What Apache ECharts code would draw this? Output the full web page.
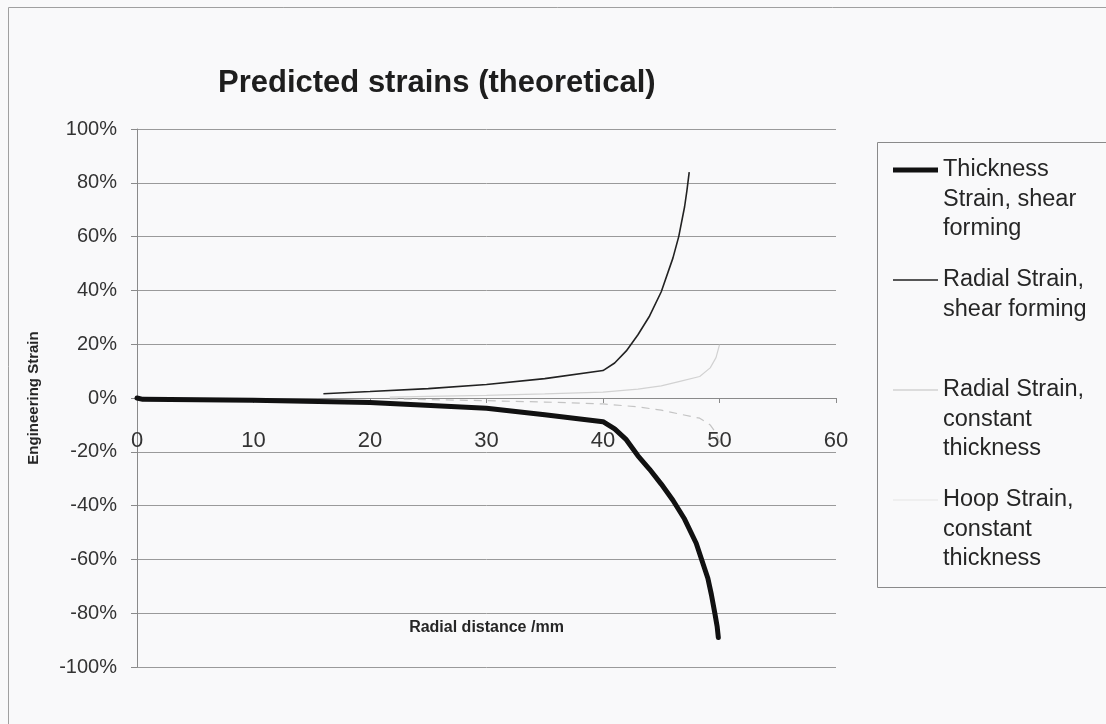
<!DOCTYPE html>
<html><head><meta charset="utf-8">
<script src="https://cdn.jsdelivr.net/npm/echarts@6/dist/echarts.min.js"></script>
<style>html,body{margin:0;padding:0;background:#f9f9fa}#c{width:1106px;height:724px}</style>
</head><body><div id="c"></div>
<script>
// ---- data ----
const seriesNames = [
  'Thickness Strain, shear forming',
  'Radial Strain, shear forming',
  'Radial Strain, constant thickness',
  'Hoop Strain, constant thickness'
];
const legendLabels = [
  'Thickness\nStrain, shear\nforming',
  'Radial Strain,\nshear forming\n ',
  'Radial Strain,\nconstant\nthickness',
  'Hoop Strain,\nconstant\nthickness'
];
const xThick = [0, 0.5, 10, 20, 30, 35, 40, 41, 42, 43, 44, 45, 46, 47, 48, 49, 49.3, 49.6, 49.8, 49.9];
const yThick = [0, -0.005, -0.008, -0.017, -0.038, -0.062, -0.088, -0.115, -0.155, -0.215, -0.265, -0.32, -0.38, -0.45, -0.54, -0.67, -0.73, -0.80, -0.85, -0.89];
const xRadial = [16, 20, 25, 30, 35, 40, 41, 42, 43, 44, 45, 46, 46.5, 47, 47.2, 47.4];
const yRadial = [0.016, 0.024, 0.035, 0.05, 0.072, 0.102, 0.13, 0.175, 0.235, 0.305, 0.395, 0.52, 0.60, 0.71, 0.77, 0.84];
const xConst = [21.7, 25, 30, 35, 40, 43, 45, 46.6, 48.3, 49.2, 49.7, 50];
const yRadialConst = [0.003, 0.006, 0.010, 0.015, 0.022, 0.033, 0.045, 0.062, 0.08, 0.112, 0.15, 0.198];
const yHoopConst = [-0.003, -0.006, -0.010, -0.015, -0.022, -0.033, -0.045, -0.06, -0.075, -0.10, -0.13, -0.165];
const yTicks = { min: -1, max: 1, interval: 0.2 };
const xTicks = { min: 0, max: 60, interval: 10 };

const pairs = (xs, ys) => xs.map((x, i) => [x, ys[i]]);
const FONT = "'Liberation Sans', Arial, sans-serif";
const L = 29.5;            // legend line height
const IH = 3 * L;          // legend item height (3 text lines)
const IW = 45;             // legend icon width
// legend icon: a bar centred on the first text line, inside an IW x IH box
const barIcon = (th) => {
  const c = L / 2, a = c - th / 2, b = c + th / 2;
  return 'path://M0,0L' + IW + ',0L' + IW + ',0.01L0,0.01Z' +
    'M0,' + a + 'L' + IW + ',' + a + 'L' + IW + ',' + b + 'L0,' + b + 'Z' +
    'M0,' + (IH - 0.01) + 'L' + IW + ',' + (IH - 0.01) + 'L' + IW + ',' + IH + 'L0,' + IH + 'Z';
};
const legendIcons = [barIcon(5), barIcon(1.5), barIcon(1.3), barIcon(1.3)];

const GRID_TOP = 129, GRID_BOTTOM = 57, H = 724;
const plotH = H - GRID_TOP - GRID_BOTTOM;
// move the x axis up to the 0 % level (middle of the -100%..100% range)
const xOffset = -plotH * (0 - yTicks.min) / (yTicks.max - yTicks.min);

const chart = echarts.init(document.getElementById('c'), null, { renderer: 'canvas' });
chart.setOption({
  backgroundColor: '#f9f9fa',
  animation: false,
  title: {
    text: 'Predicted strains (theoretical)',
    left: 213, top: 63,
    textStyle: { fontFamily: FONT, fontSize: 31, fontWeight: 'bold', color: '#1e1e1e' }
  },
  graphic: [
    { type: 'rect', left: 6, top: 5, shape: { width: 1110, height: 730 }, style: { fill: 'none', stroke: '#a0a0a0', lineWidth: 1 }, silent: true },
    { type: 'rect', left: 875, top: 140, shape: { width: 240, height: 445 }, style: { fill: 'none', stroke: '#8a8a8a', lineWidth: 1 }, silent: true }
  ],
  legend: {
    orient: 'vertical',
    left: 893, top: 170 - L / 2,
    padding: 0,
    itemGap: 110 - IH,
    itemWidth: IW, itemHeight: IH,
    symbolKeepAspect: false,
    selectedMode: false,
    itemStyle: { borderWidth: 0 },
    textStyle: { fontFamily: FONT, fontSize: 23.5, lineHeight: L, color: '#262626' },
    formatter: name => legendLabels[seriesNames.indexOf(name)],
    data: seriesNames.map((n, i) => ({ name: n, icon: legendIcons[i] }))
  },
  grid: { left: 137, right: 270, top: GRID_TOP, bottom: GRID_BOTTOM, containLabel: false, outerBoundsMode: 'none' },
  xAxis: {
    type: 'value', min: xTicks.min, max: xTicks.max, interval: xTicks.interval,
    position: 'bottom', offset: xOffset,
    name: 'Radial distance /mm', nameLocation: 'middle', nameGap: 222,
    nameTextStyle: { fontFamily: FONT, fontSize: 16, fontWeight: 'bold', color: '#262626' },
    axisLine: { onZero: false, lineStyle: { color: '#8a8a8a', width: 1 } },
    axisTick: { show: true, inside: false, length: 5, lineStyle: { color: '#8a8a8a' } },
    axisLabel: { fontFamily: FONT, fontSize: 22, color: '#333', margin: 32 },
    splitLine: { show: false }
  },
  yAxis: {
    type: 'value', min: yTicks.min, max: yTicks.max, interval: yTicks.interval,
    name: 'Engineering Strain', nameLocation: 'middle', nameGap: 96, nameRotate: 90,
    nameTextStyle: { fontFamily: FONT, fontSize: 15, fontWeight: 'bold', color: '#262626' },
    axisLine: { show: true, onZero: false, lineStyle: { color: '#8a8a8a', width: 1 } },
    axisTick: { show: true, inside: false, length: 6, lineStyle: { color: '#8a8a8a' } },
    axisLabel: { fontFamily: FONT, fontSize: 20, color: '#333', margin: 20,
      formatter: v => Math.round(v * 100) + '%' },
    splitLine: { show: true, lineStyle: { color: '#9a9a9a', width: 1 } }
  },
  series: [
    { name: seriesNames[2], type: 'line', data: pairs(xConst, yRadialConst), showSymbol: false, symbol: 'none',
      lineStyle: { color: '#d2d2d2', width: 1.2 }, itemStyle: { color: '#d2d2d2' }, z: 2 },
    { name: seriesNames[3], type: 'line', data: pairs(xConst, yHoopConst), showSymbol: false, symbol: 'none',
      lineStyle: { color: '#c4c4c4', width: 1.2, type: [8, 6] }, itemStyle: { color: '#ececec' }, z: 2 },
    { name: seriesNames[0], type: 'line', data: pairs(xThick, yThick), showSymbol: false, symbol: 'none',
      lineStyle: { color: '#111', width: 5, cap: 'round', join: 'round' }, itemStyle: { color: '#111' }, z: 4 },
    { name: seriesNames[1], type: 'line', data: pairs(xRadial, yRadial), showSymbol: false, symbol: 'none',
      lineStyle: { color: '#222', width: 1.6 }, itemStyle: { color: '#222' }, z: 3 }
  ]
});
</script>
</body></html>
